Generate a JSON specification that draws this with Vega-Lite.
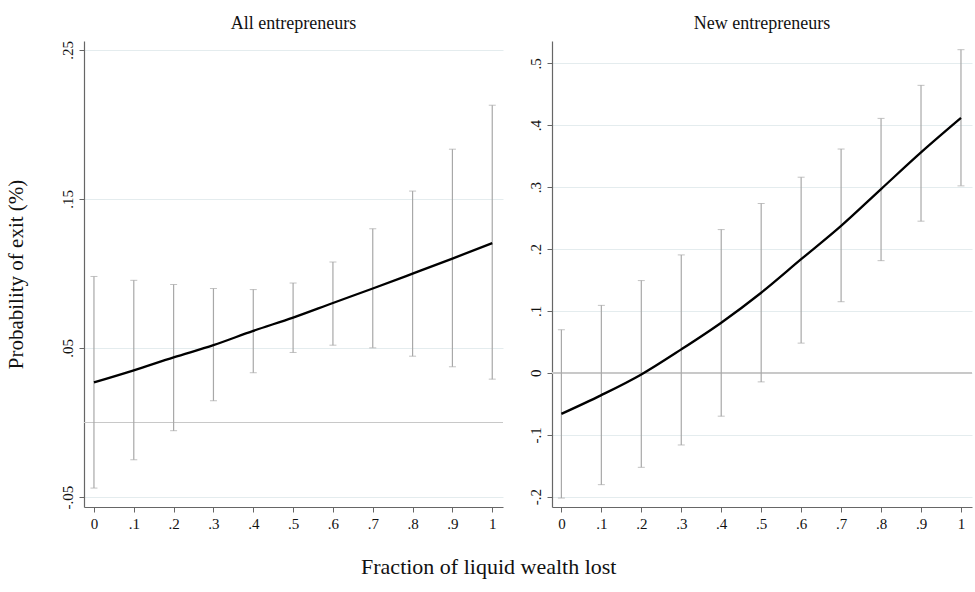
{
  "$schema": "https://vega.github.io/schema/vega-lite/v6.json",
  "background": "white",
  "padding": {"left": 5, "top": 14, "right": 3, "bottom": 5},
  "datasets": {
    "all": [
      {"x": 0.0, "est": 0.0269, "lo": -0.044, "hi": 0.098},
      {"x": 0.1, "est": 0.035, "lo": -0.025, "hi": 0.0954},
      {"x": 0.2, "est": 0.0437, "lo": -0.0055, "hi": 0.0926},
      {"x": 0.3, "est": 0.0519, "lo": 0.0146, "hi": 0.0899},
      {"x": 0.4, "est": 0.0615, "lo": 0.0334, "hi": 0.0892},
      {"x": 0.5, "est": 0.0704, "lo": 0.047, "hi": 0.0936},
      {"x": 0.6, "est": 0.0802, "lo": 0.0519, "hi": 0.1077},
      {"x": 0.7, "est": 0.0899, "lo": 0.0501, "hi": 0.130},
      {"x": 0.8, "est": 0.0999, "lo": 0.0445, "hi": 0.1553},
      {"x": 0.9, "est": 0.110, "lo": 0.0374, "hi": 0.1834},
      {"x": 1.0, "est": 0.1204, "lo": 0.0291, "hi": 0.2129}
    ],
    "new": [
      {"x": 0.0, "est": -0.0663, "lo": -0.2023, "hi": 0.0696},
      {"x": 0.1, "est": -0.036, "lo": -0.1806, "hi": 0.109},
      {"x": 0.2, "est": -0.0026, "lo": -0.1526, "hi": 0.149},
      {"x": 0.3, "est": 0.0379, "lo": -0.1165, "hi": 0.1905},
      {"x": 0.4, "est": 0.081, "lo": -0.070, "hi": 0.2314},
      {"x": 0.5, "est": 0.1294, "lo": -0.0146, "hi": 0.2735},
      {"x": 0.6, "est": 0.1835, "lo": 0.048, "hi": 0.316},
      {"x": 0.7, "est": 0.2374, "lo": 0.1149, "hi": 0.3615},
      {"x": 0.8, "est": 0.2968, "lo": 0.1812, "hi": 0.411},
      {"x": 0.9, "est": 0.356, "lo": 0.245, "hi": 0.4644},
      {"x": 1.0, "est": 0.4117, "lo": 0.302, "hi": 0.522}
    ]
  },
  "title": {
    "text": "Fraction of liquid wealth lost",
    "orient": "bottom",
    "anchor": "middle",
    "font": "Liberation Serif",
    "fontSize": 22,
    "fontWeight": "normal",
    "color": "#111",
    "offset": 26
  },
  "spacing": 23,
  "hconcat": [
    {
      "width": 419,
      "height": 466,
      "title": {"text": "All entrepreneurs", "font": "Liberation Serif", "fontSize": 18, "fontWeight": "normal", "color": "#111", "offset": 8},
      "data": {"name": "all"},
      "layer": [
        {
          "mark": {"type": "rule", "color": "#c8c8c8", "strokeWidth": 1},
          "encoding": {"y": {"datum": 0, "type": "quantitative", "title": "Probability of exit (%)", "scale": {"domain": [-0.0567, 0.256], "nice": false, "zero": false}}}
        },
        {
          "mark": {"type": "errorbar", "ticks": {"size": 7, "color": "#a8a8a8", "strokeWidth": 1.2}, "rule": {"color": "#a8a8a8", "strokeWidth": 1.2}},
          "encoding": {
            "x": {"field": "x", "type": "quantitative"},
            "y": {"field": "lo", "type": "quantitative", "title": "Probability of exit (%)"},
            "y2": {"field": "hi"}
          }
        },
        {
          "mark": {"type": "line", "color": "black", "strokeWidth": 2.3, "interpolate": "monotone"},
          "encoding": {
            "x": {
              "field": "x", "type": "quantitative",
              "scale": {"domain": [-0.025, 1.027], "nice": false, "zero": false},
              "axis": {"title": null, "values": [0, 0.1, 0.2, 0.3, 0.4, 0.5, 0.6, 0.7, 0.8, 0.9, 1], "labelExpr": "datum.value == 0 ? '0' : datum.value == 1 ? '1' : replace(format(datum.value, '.1f'), '0.', '.')", "grid": false}
            },
            "y": {
              "field": "est", "type": "quantitative",
              "title": "Probability of exit (%)",
              "scale": {"domain": [-0.0567, 0.256], "nice": false, "zero": false},
              "axis": {"title": "Probability of exit (%)", "grid": true, "titleFontSize": 21, "values": [-0.05, 0.05, 0.15, 0.25], "labelExpr": "replace(replace(format(datum.value, '.2f'), '0.', '.'), '\u2212', '-')", "labelAngle": -90, "labelAlign": "center", "labelBaseline": "bottom", "titlePadding": 34}
            }
          }
        }
      ]
    },
    {
      "width": 420,
      "height": 466,
      "title": {"text": "New entrepreneurs", "font": "Liberation Serif", "fontSize": 18, "fontWeight": "normal", "color": "#111", "offset": 8},
      "data": {"name": "new"},
      "layer": [
        {
          "mark": {"type": "rule", "color": "#c8c8c8", "strokeWidth": 1},
          "encoding": {"y": {"datum": 0, "type": "quantitative", "scale": {"domain": [-0.2167, 0.536], "nice": false, "zero": false}}}
        },
        {
          "mark": {"type": "errorbar", "ticks": {"size": 7, "color": "#a8a8a8", "strokeWidth": 1.2}, "rule": {"color": "#a8a8a8", "strokeWidth": 1.2}},
          "encoding": {
            "x": {"field": "x", "type": "quantitative"},
            "y": {"field": "lo", "type": "quantitative", "title": null},
            "y2": {"field": "hi"}
          }
        },
        {
          "mark": {"type": "line", "color": "black", "strokeWidth": 2.3, "interpolate": "monotone"},
          "encoding": {
            "x": {
              "field": "x", "type": "quantitative",
              "scale": {"domain": [-0.0235, 1.0276], "nice": false, "zero": false},
              "axis": {"title": null, "values": [0, 0.1, 0.2, 0.3, 0.4, 0.5, 0.6, 0.7, 0.8, 0.9, 1], "labelExpr": "datum.value == 0 ? '0' : datum.value == 1 ? '1' : replace(format(datum.value, '.1f'), '0.', '.')", "grid": false}
            },
            "y": {
              "field": "est", "type": "quantitative",
              "scale": {"domain": [-0.2167, 0.536], "nice": false, "zero": false},
              "axis": {"title": null, "grid": true, "values": [-0.2, -0.1, 0, 0.1, 0.2, 0.3, 0.4, 0.5], "labelExpr": "datum.value == 0 ? '0' : replace(replace(format(datum.value, '.1f'), '0.', '.'), '\u2212', '-')", "labelAngle": -90, "labelAlign": "center", "labelBaseline": "bottom"}
            }
          }
        }
      ]
    }
  ],
  "resolve": {"scale": {"x": "independent", "y": "independent"}},
  "config": {
    "view": {"stroke": null},
    "font": "Liberation Serif",
    "axis": {
      "labelFont": "Liberation Serif",
      "labelFontSize": 15,
      "labelColor": "#111",
      "titleFont": "Liberation Serif",
      "titleFontSize": 21,
      "titleFontWeight": "normal",
      "titleColor": "#111",
      "domainColor": "#666",
      "domainWidth": 1.2,
      "tickColor": "#666",
      "tickSize": 5,
      "labelPadding": 4,
      "gridColor": "#e4ecee",
      "gridWidth": 1
    }
  }
}
